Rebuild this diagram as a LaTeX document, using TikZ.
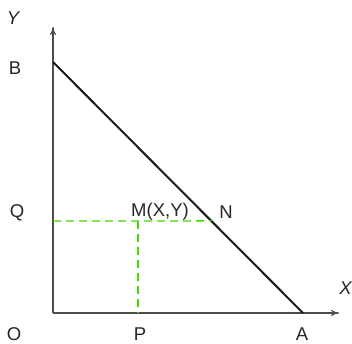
\documentclass[tikz,border=0pt]{standalone}
\usepackage{fontspec}
\setmainfont{Liberation Sans}
\usetikzlibrary{arrows.meta, positioning, calc}
\tikzset{
    x=1pt, y=1pt,
    font=\fontsize{18.5}{20}\selectfont,
    geo_axis/.style={
        draw=black!70,
        line width=1.2pt,
        -{To[length=8pt, width=6pt]}
    },
    geo_line/.style={
        draw=black!90,
        line width=2pt
    },
    geo_dash/.style={
        draw=green!60!lime!85!black,
        line width=1.3pt,
        dash pattern=on 8pt off 5pt
    },
    geo_label/.style={
        inner sep=0pt,
        text=black!85
    }
}

\begin{document}
\begin{tikzpicture}
\useasboundingbox (0,0) rectangle (352,343);

% --- Points ---
\coordinate (O) at (53,30);
\coordinate (B) at (53,281);
\coordinate (A) at (303,30);
\coordinate (yEnd) at (53,316);
\coordinate (xEnd) at (339,30);
\coordinate (Q) at (53,122);
\coordinate (N) at ($(B)!0.633!(A)$);
\coordinate (M) at (138,122);
\coordinate (P) at (138,30);

% --- Axes and segment ---
\draw[geo_axis] (O) -- (yEnd);
\draw[geo_axis] (O) -- (xEnd);
\draw[geo_line] (B) -- (A);

% --- Dashed guides ---
\draw[geo_dash] (Q) -- (N);
\draw[geo_dash] (M) -- (P);

% --- Labels ---
\node[geo_label, font=\fontsize{18.5}{20}\selectfont\itshape] (labY) at (13,325) {Y};
\node[geo_label, font=\fontsize{18.5}{20}\selectfont\itshape, anchor=east] (labX) at (352,55) {X};
\node[geo_label] (labB) at (15,275) {B};
\node[geo_label] (labQ) at (17,130) {Q};
\node[geo_label, anchor=base] (labO) at (14,2.5) {O};
\node[geo_label, anchor=base] (labP) at (140,2.5) {P};
\node[geo_label, anchor=base] (labA) at (302,2.5) {A};
\node[geo_label] (labM) at (160,131) {M(X,Y)};
\node[geo_label] (labN) at (226,131) {N};

\end{tikzpicture}
\end{document}
